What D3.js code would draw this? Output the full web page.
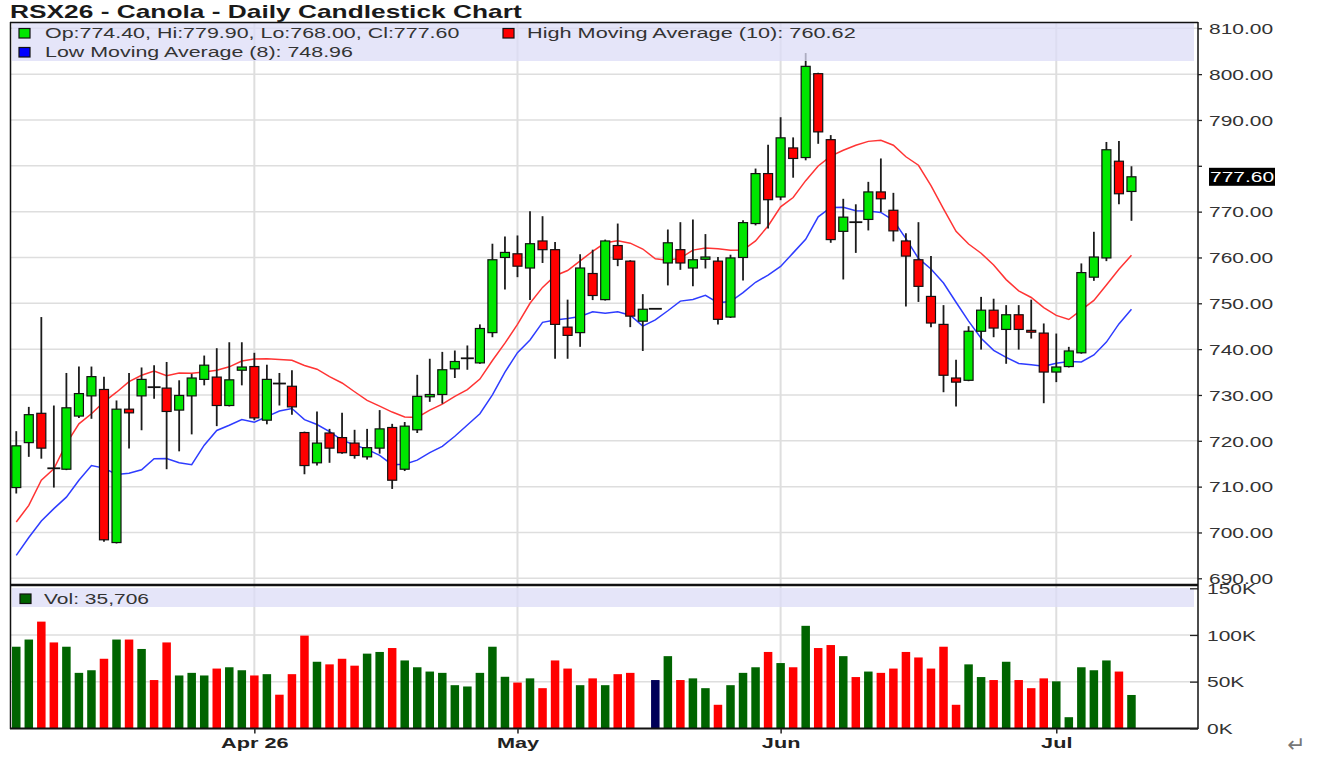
<!DOCTYPE html>
<html lang="en">
<head>
<meta charset="UTF-8">
<title>RSX26 - Canola - Daily Candlestick Chart</title>
<script src="https://cdn.jsdelivr.net/npm/d3@7"></script>
<style>
  body { margin: 0; background: #fff; }
  svg { display: block; font-family: "Liberation Sans", Arial, sans-serif; }
</style>
</head>
<body>
<script>
// daily bars, oldest first
const open = [
  709.8, 719.6, 726.0, 714.0, 713.8, 725.4, 729.8, 731.2, 697.8, 726.9,
  729.8, 731.7, 731.5, 726.7, 729.8, 733.4, 733.9, 727.7, 735.4, 736.2,
  724.5, 732.5, 731.9, 721.8, 715.2, 721.7, 720.7, 719.5, 716.5, 718.4,
  722.9, 713.8, 722.4, 729.6, 730.1, 735.7, 738.0, 737.0, 743.6, 760.0,
  760.8, 757.7, 763.6, 761.7, 744.8, 743.6, 756.5, 750.8, 762.6, 759.2,
  746.1, 748.8, 758.8, 761.7, 757.7, 759.6, 759.2, 747.0, 760.0, 767.4,
  778.3, 773.2, 783.9, 781.8, 800.1, 785.7, 765.7, 767.7, 768.3, 774.3,
  770.3, 763.6, 759.5, 751.5, 745.4, 733.7, 733.2, 743.9, 748.5, 744.3,
  747.5, 744.1, 743.5, 735.0, 736.2, 739.2, 755.7, 759.9, 781.0, 774.4
];
const high = [
  722.1, 727.4, 747.0, 727.7, 734.8, 736.2, 736.2, 734.0, 728.8, 734.8,
  736.0, 736.5, 737.2, 733.2, 734.6, 738.6, 740.2, 741.5, 741.5, 739.2,
  736.6, 734.8, 735.4, 722.0, 726.4, 722.6, 726.1, 722.4, 722.6, 726.7,
  723.7, 724.1, 734.4, 737.9, 739.4, 739.7, 740.8, 745.4, 763.0, 764.6,
  764.8, 770.1, 769.0, 763.4, 750.8, 760.7, 761.7, 763.9, 767.4, 759.4,
  752.0, 748.8, 766.1, 767.7, 768.3, 765.1, 760.1, 760.6, 768.1, 779.4,
  784.6, 790.6, 786.2, 804.6, 800.3, 786.7, 772.8, 771.6, 776.5, 781.6,
  774.1, 765.3, 767.7, 760.3, 749.6, 737.7, 745.0, 751.4, 751.0, 749.6,
  749.6, 750.8, 745.6, 743.4, 740.5, 758.7, 765.6, 785.2, 785.4, 779.9
];
const low = [
  708.5, 716.5, 716.1, 709.8, 713.6, 725.0, 724.8, 698.0, 697.6, 718.3,
  722.3, 729.2, 713.8, 717.7, 721.4, 732.1, 723.2, 727.5, 732.1, 724.5,
  723.6, 727.7, 725.7, 712.7, 714.6, 715.2, 717.2, 716.1, 715.9, 717.2,
  709.5, 713.4, 721.7, 728.5, 728.1, 733.7, 735.5, 736.8, 742.6, 753.0,
  755.7, 750.7, 758.8, 737.9, 737.9, 740.5, 750.7, 750.6, 758.1, 744.8,
  739.6, 748.8, 753.9, 757.3, 753.7, 757.6, 745.4, 746.8, 755.0, 767.0,
  766.3, 772.5, 777.4, 781.2, 784.8, 763.2, 755.2, 761.0, 765.9, 769.9,
  763.5, 749.3, 750.3, 744.8, 730.6, 727.5, 733.0, 739.9, 742.6, 736.8,
  739.9, 742.3, 728.2, 732.8, 736.0, 739.0, 754.9, 759.2, 771.6, 768.0
];
const close = [
  718.9, 725.7, 718.4, 713.8, 727.2, 730.3, 734.0, 698.4, 726.9, 726.1,
  733.4, 731.5, 726.4, 729.9, 733.7, 736.5, 727.7, 733.3, 736.1, 725.0,
  733.4, 732.3, 727.4, 714.6, 719.5, 718.4, 717.4, 716.8, 718.5, 722.6,
  711.4, 723.2, 729.7, 730.1, 735.5, 737.3, 738.2, 744.5, 759.5, 761.1,
  758.1, 763.0, 761.7, 745.4, 743.0, 757.7, 751.7, 763.6, 759.6, 747.2,
  748.7, 748.8, 763.2, 758.8, 759.5, 760.1, 746.5, 759.9, 767.6, 778.3,
  772.6, 786.1, 781.6, 801.7, 787.4, 763.9, 768.8, 767.5, 774.3, 772.8,
  765.8, 760.3, 753.7, 745.7, 734.3, 732.8, 743.9, 748.5, 744.6, 747.5,
  744.3, 743.7, 735.0, 736.1, 739.6, 756.7, 760.1, 783.5, 773.9, 777.6
];
const volume = [
  87400, 95100, 114300, 92000, 87400, 59400, 62200, 74500, 95100, 95100,
  85000, 51700, 92000, 56600, 59400, 56600, 64000, 65400, 62200, 56600,
  58000, 36000, 58000, 99300, 71300, 68500, 74500, 67100, 80000, 81800,
  86000, 72700, 65400, 60800, 59400, 46200, 44800, 59400, 87400, 55200,
  49000, 53500, 43000, 72700, 64000, 46200, 53500, 46200, 58000, 59400,
  0, 51700, 77300, 51700, 53500, 43000, 25200, 46200, 59400, 65400,
  81800, 69900, 65400, 109800, 86000, 89200, 77300, 54900, 60800, 59400,
  64000, 81800, 75900, 64000, 87400, 25200, 68500, 54900, 51700, 71300,
  51700, 43000, 53500, 50300, 11900, 65400, 62200, 72700, 60800, 35706
];

// moving averages before their window fills (earlier bars are off the chart)
const highMaLead = [702.3, 705.9, 711.4, 713.9, 719.4, 723.7, 725.9, 728.5, 730.6];
const lowMaLead = [695.0, 698.9, 702.5, 705.2, 707.7, 711.4, 714.6];
const maLast = [760.62, 748.96];

const axisLabels = ['Apr 26', 'May', 'Jun', 'Jul'];
const axisIdx = [19, 40, 61, 83];
const priceTicks = d3.range(690, 811, 10);
const volTicks = [0, 50000, 100000, 150000];

let width = 1318;
let height = 757;
let sx = 1.4; // the picture's lettering is stretched sideways
let left = 10;
let right = 1198;
let n = open.length - 1;

let x = d3.scaleLinear().domain([-0.5, 94.23]).range([left, 1197]);
let y = d3.scaleLinear().domain([690, 810]).range([578.3, 28.3]);
let yv = d3.scaleLinear().domain([0, 150000]).range([728.3, 588.3]);

let highMa = open.map((d, i) => i < 9 ? highMaLead[i] : d3.mean(high.slice(i - 9, i + 1)));
let lowMa = open.map((d, i) => i < 7 ? lowMaLead[i] : d3.mean(low.slice(i - 7, i + 1)));

function colorOf(i) {
  if (close[i] > open[i]) return 'up';
  if (close[i] < open[i]) return 'down';
  return 'flat';
}
const candleFill = { up: '#00e600', down: '#ff0000', flat: '#000' };
const volFill = { up: '#006400', down: '#ff0000', flat: '#000058' };

let svg = d3.select('body').append('svg')
  .attr('width', width)
  .attr('height', height);

function label(parent, px, py, str, size, weight, anchor, fill) {
  return parent.append('text')
    .attr('transform', `translate(${px},${py}) scale(${sx},1)`)
    .attr('font-size', size)
    .attr('font-weight', weight || 'normal')
    .attr('text-anchor', anchor || 'start')
    .attr('fill', fill || '#333')
    .text(str);
}

// grid
let grid = svg.append('g').attr('stroke', '#dedede');
grid.selectAll('.hp').data(priceTicks).join('line')
  .attr('x1', left).attr('x2', right)
  .attr('y1', d => y(d)).attr('y2', d => y(d))
  .attr('stroke-width', 1.5);
grid.selectAll('.hv').data([50000, 100000]).join('line')
  .attr('x1', left).attr('x2', right)
  .attr('y1', d => yv(d)).attr('y2', d => yv(d))
  .attr('stroke-width', 1.5);
grid.selectAll('.v').data(axisIdx).join('line')
  .attr('x1', d => x(d)).attr('x2', d => x(d))
  .attr('y1', 22).attr('y2', 728)
  .attr('stroke-width', 2);

// moving averages
let line = d3.line().x((d, i) => x(i)).y(d => y(d));
svg.append('path').datum(highMa)
  .attr('d', line).attr('fill', 'none')
  .attr('stroke', '#ff3434').attr('stroke-width', 1.5);
svg.append('path').datum(lowMa)
  .attr('d', line).attr('fill', 'none')
  .attr('stroke', '#2e3cff').attr('stroke-width', 1.5);

// candles
let idx = d3.range(open.length);
let candles = svg.append('g');
candles.selectAll('.wick').data(idx).join('line')
  .attr('x1', i => x(i)).attr('x2', i => x(i))
  .attr('y1', i => y(high[i])).attr('y2', i => y(low[i]))
  .attr('stroke', '#1c1c1c').attr('stroke-width', 1.8);

let doji = idx.filter(i => Math.abs(open[i] - close[i]) <= 0.25);
let bodies = idx.filter(i => Math.abs(open[i] - close[i]) > 0.25);
candles.selectAll('.body').data(bodies).join('rect')
  .attr('x', i => x(i) - 4.5)
  .attr('width', 9)
  .attr('y', i => y(Math.max(open[i], close[i])))
  .attr('height', i => Math.max(1, Math.abs(y(open[i]) - y(close[i]))))
  .attr('fill', i => candleFill[colorOf(i)])
  .attr('stroke', '#111').attr('stroke-width', 1.2);
candles.selectAll('.doji').data(doji).join('line')
  .attr('x1', i => x(i) - 6.5).attr('x2', i => x(i) + 6.5)
  .attr('y1', i => y(open[i])).attr('y2', i => y(open[i]))
  .attr('stroke', '#111').attr('stroke-width', 1.8);

// volume
svg.append('g').selectAll('rect').data(idx.filter(i => volume[i] > 0)).join('rect')
  .attr('x', i => x(i) - 4.25)
  .attr('width', 8.5)
  .attr('y', i => yv(volume[i]))
  .attr('height', i => yv(0) - yv(volume[i]))
  .attr('fill', i => volFill[colorOf(i)]);

// legend bands
let bands = svg.append('g').attr('fill', 'rgb(220,220,247)').attr('opacity', 0.75);
bands.append('rect').attr('x', 12).attr('y', 23).attr('width', 1182).attr('height', 38);
bands.append('rect').attr('x', 12).attr('y', 588).attr('width', 1182).attr('height', 19);

// frame
let frame = svg.append('g').attr('stroke', '#111').attr('fill', 'none');
frame.append('line').attr('x1', 10.5).attr('x2', 10.5).attr('y1', 22).attr('y2', 729).attr('stroke-width', 1.5);
frame.append('line').attr('x1', 10).attr('x2', right).attr('y1', 22.5).attr('y2', 22.5).attr('stroke-width', 1.5);
frame.append('line').attr('x1', right).attr('x2', right).attr('y1', 22).attr('y2', 729).attr('stroke-width', 1.5);
frame.append('line').attr('x1', 10).attr('x2', right).attr('y1', 585).attr('y2', 585).attr('stroke-width', 2.5);
frame.append('line').attr('x1', 10).attr('x2', right).attr('y1', 728.5).attr('y2', 728.5).attr('stroke-width', 2);

// d3 axes set their own font; put ours back afterwards
function axisFont(g, size, color) {
  g.attr('font-family', null).attr('font-size', size).attr('color', color);
  g.select('.domain').remove();
  g.selectAll('.tick line').attr('stroke', '#222').attr('stroke-width', 1.3);
}

// price axis
let pAxis = svg.append('g')
  .attr('transform', `translate(${right},0)`)
  .call(d3.axisRight(y).tickValues(priceTicks).tickSize(4).tickFormat(d3.format('.2f')));
axisFont(pAxis, 15, '#333');
pAxis.selectAll('.tick text')
  .attr('x', null)
  .attr('dy', '0.35em')
  .attr('transform', `translate(11,0) scale(${sx},1)`)
  .style('display', d => Math.abs(d - close[n]) < 4 ? 'none' : null);

// volume axis
let vAxis = svg.append('g')
  .attr('transform', `translate(${right},0)`)
  .call(d3.axisRight(yv).tickValues(volTicks).tickSizeInner(-8).tickSizeOuter(0)
    .tickFormat(d => d / 1000 + 'K'));
axisFont(vAxis, 15, '#333');
vAxis.selectAll('.tick text')
  .attr('x', null)
  .attr('dy', '0.35em')
  .attr('transform', `translate(9,0) scale(${sx},1)`);

// time axis
let tAxis = svg.append('g')
  .attr('transform', 'translate(0,728.5)')
  .call(d3.axisBottom(x).tickValues(axisIdx).tickSize(5).tickFormat((d, i) => axisLabels[i]));
axisFont(tAxis, 15.5, '#222');
tAxis.selectAll('.tick line').attr('stroke-width', 1.5);
tAxis.selectAll('.tick text')
  .attr('y', null).attr('dy', null)
  .attr('font-weight', 'bold')
  .attr('transform', `translate(0,19.5) scale(${sx},1)`);

// last price tag
let yl = y(close[n]);
svg.append('rect').attr('x', 1209).attr('y', yl - 9).attr('width', 66).attr('height', 18).attr('fill', '#000');
label(svg, 1210, yl + 5.3, close[n].toFixed(2), 15, 'normal', 'start', '#fff');

// title and legends
label(svg, 10, 17.5, 'RSX26 - Canola - Daily Candlestick Chart', 18.8, 'bold', 'start', '#1a1a1a');

let legend = svg.append('g');
legend.append('rect').attr('x', 19).attr('y', 28.5).attr('width', 11).attr('height', 9.5)
  .attr('fill', '#00e600').attr('stroke', '#111').attr('stroke-width', 1.2);
label(legend, 45, 38.3,
  `Op:${open[n].toFixed(2)}, Hi:${high[n].toFixed(2)}, Lo:${low[n].toFixed(2)}, Cl:${close[n].toFixed(2)}`, 15.3);
legend.append('rect').attr('x', 503).attr('y', 28.5).attr('width', 11).attr('height', 9.5)
  .attr('fill', '#ff0000').attr('stroke', '#111').attr('stroke-width', 1.2);
label(legend, 527, 38.3, `High Moving Average (10): ${maLast[0].toFixed(2)}`, 15.5);
legend.append('rect').attr('x', 19).attr('y', 47.5).attr('width', 11).attr('height', 9.5)
  .attr('fill', '#0000ff').attr('stroke', '#111').attr('stroke-width', 1.2);
label(legend, 45, 56.8, `Low Moving Average (8): ${maLast[1].toFixed(2)}`, 15.3);

legend.append('rect').attr('x', 20).attr('y', 594).attr('width', 11).attr('height', 9.5)
  .attr('fill', '#006400').attr('stroke', '#111').attr('stroke-width', 1.2);
label(legend, 44, 603.5, `Vol: ${d3.format(',')(volume[n])}`, 15);

label(svg, 1287, 752, '\u21B5', 22, 'normal', 'start', '#777')
  .attr('font-family', 'DejaVu Sans')
  .attr('transform', 'translate(1287,752)');
</script>
</body>
</html>
